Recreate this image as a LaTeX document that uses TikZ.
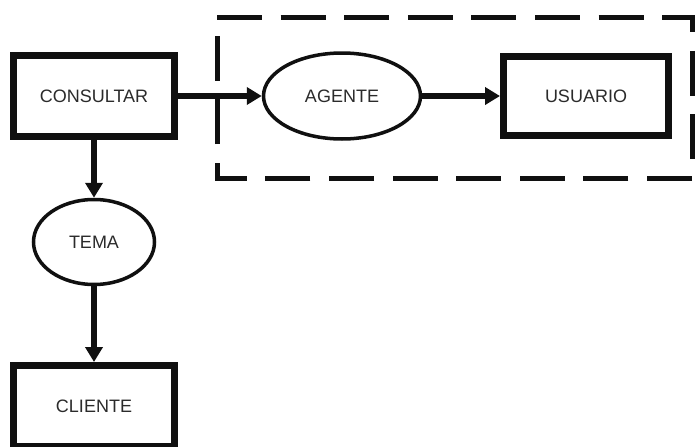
\documentclass[tikz,border=0pt]{standalone}
\usepackage{fontspec}
\setmainfont{Liberation Sans}
\usepackage{xcolor}
\usepackage{tikz}
\usetikzlibrary{arrows.meta, shapes.geometric, positioning}
\definecolor{ink}{HTML}{101010}
\definecolor{labeltext}{HTML}{2B2B2B}
\tikzset{
  rect node/.style={
    rectangle,
    draw=ink,
    line width=7pt,
    fill=white,
    inner sep=0pt,
    minimum width=161pt,
    minimum height=81pt,
    font=\fontsize{18}{21}\selectfont,
    text=labeltext
  },
  oval node/.style={
    ellipse,
    draw=ink,
    line width=3.5pt,
    fill=white,
    inner sep=0pt,
    font=\fontsize{18}{21}\selectfont,
    text=labeltext
  },
  flow/.style={
    -{Triangle[length=15pt, width=17pt]},
    line width=6.5pt,
    color=ink
  },
  group box/.style={
    draw=ink,
    line width=5pt,
    dash pattern=on 45pt off 18.6pt
  }
}

\begin{document}
\begin{tikzpicture}[x=1pt, y=-1pt]
  % Frame
  \useasboundingbox[fill=white] (0,0) rectangle (696,447);

  % Group: agente and usuario
  \draw[group box] (217,17) -- (692,17) -- (692,178) -- (217,178) -- cycle;

  % Nodes
  \node[rect node] (consultar) at (94,96) {CONSULTAR};
  \node[oval node, minimum width=157pt, minimum height=86pt] (agente) at (342,96) {AGENTE};
  \node[rect node, minimum width=165pt, minimum height=79pt] (usuario) at (586,96) {USUARIO};
  \node[oval node, minimum width=121pt, minimum height=85pt] (tema) at (94,242) {TEMA};
  \node[rect node] (cliente) at (94,406) {CLIENTE};

  % Connectors
  \draw[flow] (consultar.east) -- (agente.west);
  \draw[flow] (agente.east) -- (usuario.west);
  \draw[flow] (consultar.south) -- (tema.north);
  \draw[flow] (tema.south) -- (cliente.north);
\end{tikzpicture}
\end{document}
